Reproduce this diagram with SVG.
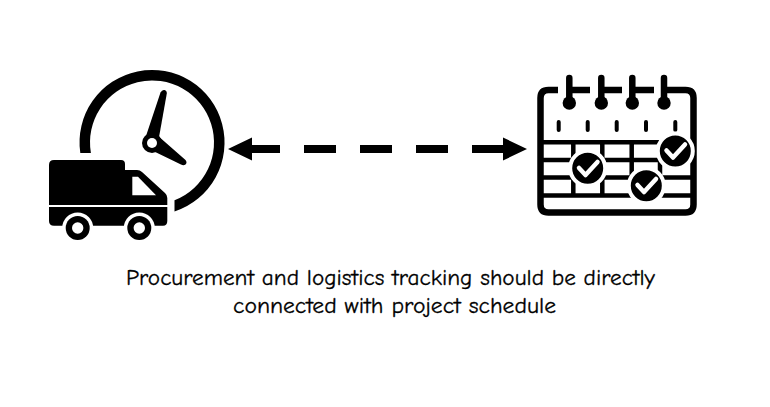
<svg xmlns="http://www.w3.org/2000/svg" width="770" height="407" viewBox="0 0 770 407">
<style>
.k{fill:#000}.w{fill:#fff}
.ln{fill:none;stroke:#000;stroke-width:4.5}
.fr{fill:none;stroke:#000;stroke-width:6.5;stroke-linecap:butt}
.rg{fill:none;stroke:#000;stroke-width:6.5;stroke-linecap:round}
.tk{fill:none;stroke:#000;stroke-width:4;stroke-linecap:round}
.ck{fill:none;stroke:#fff;stroke-width:4.5;stroke-linecap:round;stroke-linejoin:round}
.halo{fill:#000;stroke:#fff;stroke-width:4}
.t{font-family:"Comic Sans MS","Comic Neue","Noto Sans",sans-serif;font-size:23px;text-anchor:middle;fill:#000;stroke:#000;stroke-width:.3}
</style>
<rect width="770" height="407" fill="#fff"/>
<g id="clock-truck">
<path class="k" d="M80.3 153A72.5 72.5 0 1 1 174.5 211.4V200.3A62 62 0 1 0 90.9 153Z"/>
<path class="k" d="M145 139L160.5 92.5Q162 89.5 164.5 90Q167 90.5 166.8 93.5L158.5 140Z"/>
<path class="k" d="M157 135L185.5 160Q187.5 162.5 185.5 164.5Q183.5 166 181 164.5L149 149Z"/>
<circle class="k" cx="152" cy="143" r="10"/><circle class="w" cx="152" cy="143" r="5"/>
<path class="k" d="M49 165Q49 160 54 160H121Q125 160 125 164V170H137Q140 170 142 172L165 193Q167.3 195 167.3 198V205H49ZM49 207H167.3V221Q167.3 225.7 163 225.7H54Q49 225.7 49 221Z"/>
<path class="w" d="M132.3 176.7H138L156 195.3H132.3Z"/>
<g><circle class="w" cx="77.7" cy="228" r="15.5"/><circle class="k" cx="77.7" cy="228" r="12"/><circle class="w" cx="77.7" cy="228" r="5.7"/></g>
<g><circle class="w" cx="139.3" cy="228" r="15.5"/><circle class="k" cx="139.3" cy="228" r="12"/><circle class="w" cx="139.3" cy="228" r="5.7"/></g>
</g>
<g id="connectors">
<path class="k" d="M228 149L252 137.5V145H280V153H252V160.5Z"/>
<rect class="k" x="304" y="145" width="32" height="8"/>
<rect class="k" x="360" y="145" width="32" height="8"/>
<rect class="k" x="416" y="145" width="32" height="8"/>
<path class="k" d="M472 145H503V137.5L527 149L503 160.5V153H472Z"/>
</g>
<g id="calendar">
<path class="fr" d="M558 90H548.5Q540.5 90 540.5 98V204.5Q540.5 212.5 548.5 212.5H685.5Q693.5 212.5 693.5 204.5V98Q693.5 90 685.5 90H664"/>
<path class="fr" d="M569 90H590M601 90H622M632 90H654"/>
<path class="rg" d="M569.3 78V100M601.3 78V100M632.3 78V100M664 78V100"/>
<circle class="k" cx="569.3" cy="103" r="6.7"/><circle class="k" cx="601.3" cy="103" r="6.7"/><circle class="k" cx="632.3" cy="103" r="6.7"/><circle class="k" cx="664" cy="103" r="6.7"/>
<path class="tk" d="M558.7 122V130M587.7 122V130M616.7 122V130M646 122V130M675.3 122V130"/>
<path class="ln" d="M540 142.3H694M540 160H694M540 177.5H694M540 195.5H694M573.3 142V195.5M602.3 142V195.5M631.7 142V195.5M660 142V195.5"/>
<g><circle class="halo" cx="587.7" cy="168.3" r="17.5"/><path class="ck" d="M579 168L585.5 175L597.5 162"/></g>
<g><circle class="halo" cx="646.3" cy="185.7" r="17.5"/><path class="ck" d="M637.5 185L644 192L656 179"/></g>
<g><circle class="halo" cx="675.3" cy="151" r="17.5"/><path class="ck" d="M666.5 150.5L673 157.5L685 144.5"/></g>
</g>
<g id="caption">
<text class="t" x="390.5" y="285" textLength="529" lengthAdjust="spacingAndGlyphs">Procurement and logistics tracking should be directly</text>
<text class="t" x="394.5" y="313" textLength="323" lengthAdjust="spacingAndGlyphs">connected with project schedule</text>
</g>
</svg>
